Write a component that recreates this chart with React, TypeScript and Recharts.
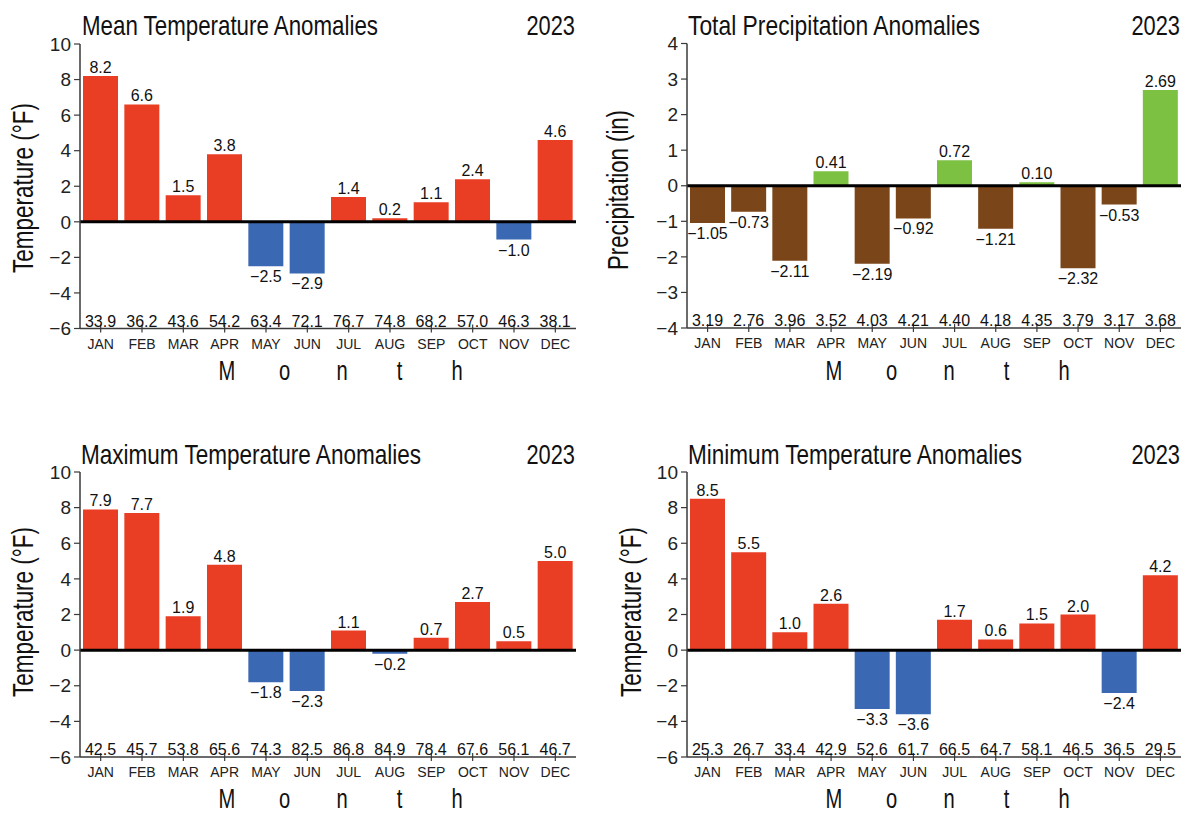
import React from 'react';
import { BarChart, Bar, XAxis, YAxis, Cell, LabelList, ReferenceLine } from 'recharts';

const MONTHS = ['JAN', 'FEB', 'MAR', 'APR', 'MAY', 'JUN', 'JUL', 'AUG', 'SEP', 'OCT', 'NOV', 'DEC'];

const MEAN_ANOM = [8.2, 6.6, 1.5, 3.8, -2.5, -2.9, 1.4, 0.2, 1.1, 2.4, -1.0, 4.6];
const MEAN_VAL = [33.9, 36.2, 43.6, 54.2, 63.4, 72.1, 76.7, 74.8, 68.2, 57.0, 46.3, 38.1];

const PRCP_ANOM = [-1.05, -0.73, -2.11, 0.41, -2.19, -0.92, 0.72, -1.21, 0.1, -2.32, -0.53, 2.69];
const PRCP_VAL = [3.19, 2.76, 3.96, 3.52, 4.03, 4.21, 4.4, 4.18, 4.35, 3.79, 3.17, 3.68];

const MAX_ANOM = [7.9, 7.7, 1.9, 4.8, -1.8, -2.3, 1.1, -0.2, 0.7, 2.7, 0.5, 5.0];
const MAX_VAL = [42.5, 45.7, 53.8, 65.6, 74.3, 82.5, 86.8, 84.9, 78.4, 67.6, 56.1, 46.7];

const MIN_ANOM = [8.5, 5.5, 1.0, 2.6, -3.3, -3.6, 1.7, 0.6, 1.5, 2.0, -2.4, 4.2];
const MIN_VAL = [25.3, 26.7, 33.4, 42.9, 52.6, 61.7, 66.5, 64.7, 58.1, 46.5, 36.5, 29.5];

const TEMP_TICKS = [-6, -4, -2, 0, 2, 4, 6, 8, 10];
const PRCP_TICKS = [-4, -3, -2, -1, 0, 1, 2, 3, 4];

const FONT = '"Liberation Sans", Arial, sans-serif';
const FONT_N = '"Liberation Sans Narrow", "Liberation Sans", Arial, sans-serif';
const AXIS = '#3a3a3a';
const RED = '#EA3E24';
const BLUE = '#3B68B2';
const BROWN = '#7A4519';
const GREEN = '#7DC143';

const PW = 594;
const PH = 408;
const YAXIS_W = 60;
const XAXIS_H = 30;

const minus = (s: string) => s.replace('-', '\u2212');
const fmt = (v: number, d: number) => (v < 0 ? '\u2212' : '') + Math.abs(v).toFixed(d);

const MonthTick = (props: any) => {
  const { x, y, payload } = props;
  return (
    <g>
      <line x1={x} x2={x} y1={y - 4} y2={y + 4} stroke={AXIS} strokeWidth={1.2} />
      <text x={x} y={y + 20} textAnchor="middle" fontSize={14} fill="#222" fontFamily={FONT}>
        {payload.value}
      </text>
    </g>
  );
};

const box = (p: any) => {
  const vb = p.viewBox || p;
  return { x: vb.x ?? p.x, y: vb.y ?? p.y, w: vb.width ?? p.width, h: vb.height ?? p.height };
};

const topLabel = (digits: number) => (p: any) => {
  const { x, y, w, h } = box(p);
  const v = Number(p.value);
  const top = Math.min(y, y + h);
  const bot = Math.max(y, y + h);
  const ty = v >= 0 ? top - 3 : bot + 16;
  return (
    <text x={x + w / 2} y={ty} textAnchor="middle" fontSize={16} fill="#111" fontFamily={FONT}>
      {fmt(v, digits)}
    </text>
  );
};

const baseLabel = (digits: number, plotBottom: number) => (p: any) => {
  const { x, w } = box(p);
  return (
    <text x={x + w / 2} y={plotBottom - 2} textAnchor="middle" fontSize={16} fill="#111" fontFamily={FONT}>
      {Number(p.value).toFixed(digits)}
    </text>
  );
};

type PanelProps = {
  ox: number;
  oy: number;
  plot: { x1: number; x2: number; y1: number; y2: number };
  anom: number[];
  vals: number[];
  domain: [number, number];
  ticks: number[];
  digits: number;
  pos: string;
  neg: string;
};

const Panel = ({ ox, oy, plot, anom, vals, domain, ticks, digits, pos, neg }: PanelProps) => {
  const data = MONTHS.map((m, i) => ({ month: m, anom: anom[i], value: vals[i] }));
  const margin = {
    left: plot.x1 - ox - YAXIS_W,
    right: ox + PW - plot.x2,
    top: plot.y1 - oy,
    bottom: oy + PH - plot.y2 - XAXIS_H,
  };
  const plotBottom = plot.y2 - oy;
  return (
    <div style={{ position: 'absolute', left: ox, top: oy, width: PW, height: PH }}>
      <BarChart width={PW} height={PH} data={data} margin={margin}>
        <XAxis
          dataKey="month"
          height={XAXIS_H}
          axisLine={{ stroke: AXIS, strokeWidth: 1.5 }}
          tickLine={false}
          tickSize={0}
          tickMargin={0}
          interval={0}
          tick={<MonthTick />}
        />
        <XAxis xAxisId="top" dataKey="month" orientation="top" height={0} tick={false} tickLine={false} axisLine={{ stroke: AXIS, strokeWidth: 1.5 }} />
        <YAxis
          width={YAXIS_W}
          domain={domain}
          ticks={ticks}
          type="number"
          allowDataOverflow
          axisLine={{ stroke: AXIS, strokeWidth: 1.5 }}
          tickLine={{ stroke: AXIS, strokeWidth: 1.2 }}
          tickSize={6}
          tickMargin={3}
          tickFormatter={(v: number) => minus(String(v))}
          tick={{ fontSize: 19, fill: '#222', fontFamily: FONT }}
        />
        <YAxis yAxisId="right" orientation="right" width={0} domain={domain} type="number" tick={false} tickLine={false} axisLine={{ stroke: AXIS, strokeWidth: 1.5 }} />
        <Bar dataKey="anom" barSize={35} isAnimationActive={false}>
          {data.map((d, i) => (
            <Cell key={`c-${i}`} fill={d.anom >= 0 ? pos : neg} />
          ))}
          <LabelList dataKey="anom" content={topLabel(digits)} />
          <LabelList dataKey="value" content={baseLabel(digits, plotBottom)} />
        </Bar>
        <ReferenceLine y={0} stroke="#000" strokeWidth={3} />
      </BarChart>
    </div>
  );
};

const TITLES = [
  { text: 'Mean Temperature Anomalies', x: 82, y: 35, len: 296 },
  { text: 'Total Precipitation Anomalies', x: 688, y: 35, len: 292 },
  { text: 'Maximum Temperature Anomalies', x: 81, y: 464, len: 340 },
  { text: 'Minimum Temperature Anomalies', x: 688, y: 464, len: 334 },
];

const YEARS = [
  { x: 575, y: 35 },
  { x: 1180, y: 35 },
  { x: 575, y: 464 },
  { x: 1180, y: 464 },
];

const YLABELS = [
  { text: 'Temperature (\u00b0F)', x: 33, y: 188, len: 170 },
  { text: 'Precipitation (in)', x: 628, y: 190, len: 160 },
  { text: 'Temperature (\u00b0F)', x: 33, y: 612, len: 170 },
  { text: 'Temperature (\u00b0F)', x: 641, y: 612, len: 170 },
];

const MONTH_CENTERS = [
  { x: 342, y: 386 },
  { x: 949, y: 386 },
  { x: 342, y: 814 },
  { x: 949, y: 814 },
];

const Overlay = () => (
  <svg width={1188} height={815} style={{ position: 'absolute', left: 0, top: 0, pointerEvents: 'none' }}>
    {TITLES.map((t, i) => (
      <text key={`t-${i}`} x={t.x} y={t.y} fontSize={28} fill="#111" fontFamily={FONT_N} textLength={t.len} lengthAdjust="spacingAndGlyphs">
        {t.text}
      </text>
    ))}
    {YEARS.map((t, i) => (
      <g key={`y-${i}`} transform={`translate(${t.x},${t.y}) scale(0.78,1)`}>
        <text x={0} y={0} textAnchor="end" fontSize={28} fill="#111" fontFamily={FONT_N}>
          2023
        </text>
      </g>
    ))}
    {YLABELS.map((t, i) => (
      <text
        key={`l-${i}`}
        transform={`translate(${t.x},${t.y}) rotate(-90)`}
        textAnchor="middle"
        fontSize={29}
        fill="#111"
        fontFamily={FONT_N}
        textLength={t.len}
        lengthAdjust="spacingAndGlyphs"
      >
        {t.text}
      </text>
    ))}
    {MONTH_CENTERS.map((c, i) => (
      <g key={`m-${i}`} transform={`translate(${c.x},${c.y - 6}) scale(0.72,1)`}>
        {['M', 'o', 'n', 't', 'h'].map((ch, j) => (
          <text key={ch} x={((j - 2) * 57.5) / 0.72} y={0} textAnchor="middle" fontSize={28} fill="#111" fontFamily={FONT_N}>
            {ch}
          </text>
        ))}
      </g>
    ))}
  </svg>
);

export default function App() {
  return (
    <div style={{ position: 'absolute', left: 0, top: 0, width: 1188, height: 815, background: '#fff', overflow: 'hidden' }}>
      <Panel ox={0} oy={0} plot={{ x1: 80, x2: 576, y1: 44, y2: 328.5 }} anom={MEAN_ANOM} vals={MEAN_VAL} domain={[-6, 10]} ticks={TEMP_TICKS} digits={1} pos={RED} neg={BLUE} />
      <Panel ox={594} oy={0} plot={{ x1: 687, x2: 1181, y1: 43.5, y2: 328 }} anom={PRCP_ANOM} vals={PRCP_VAL} domain={[-4, 4]} ticks={PRCP_TICKS} digits={2} pos={GREEN} neg={BROWN} />
      <Panel ox={0} oy={408} plot={{ x1: 80, x2: 576, y1: 472, y2: 757 }} anom={MAX_ANOM} vals={MAX_VAL} domain={[-6, 10]} ticks={TEMP_TICKS} digits={1} pos={RED} neg={BLUE} />
      <Panel ox={594} oy={408} plot={{ x1: 687, x2: 1181, y1: 472, y2: 757 }} anom={MIN_ANOM} vals={MIN_VAL} domain={[-6, 10]} ticks={TEMP_TICKS} digits={1} pos={RED} neg={BLUE} />
      <Overlay />
    </div>
  );
}
